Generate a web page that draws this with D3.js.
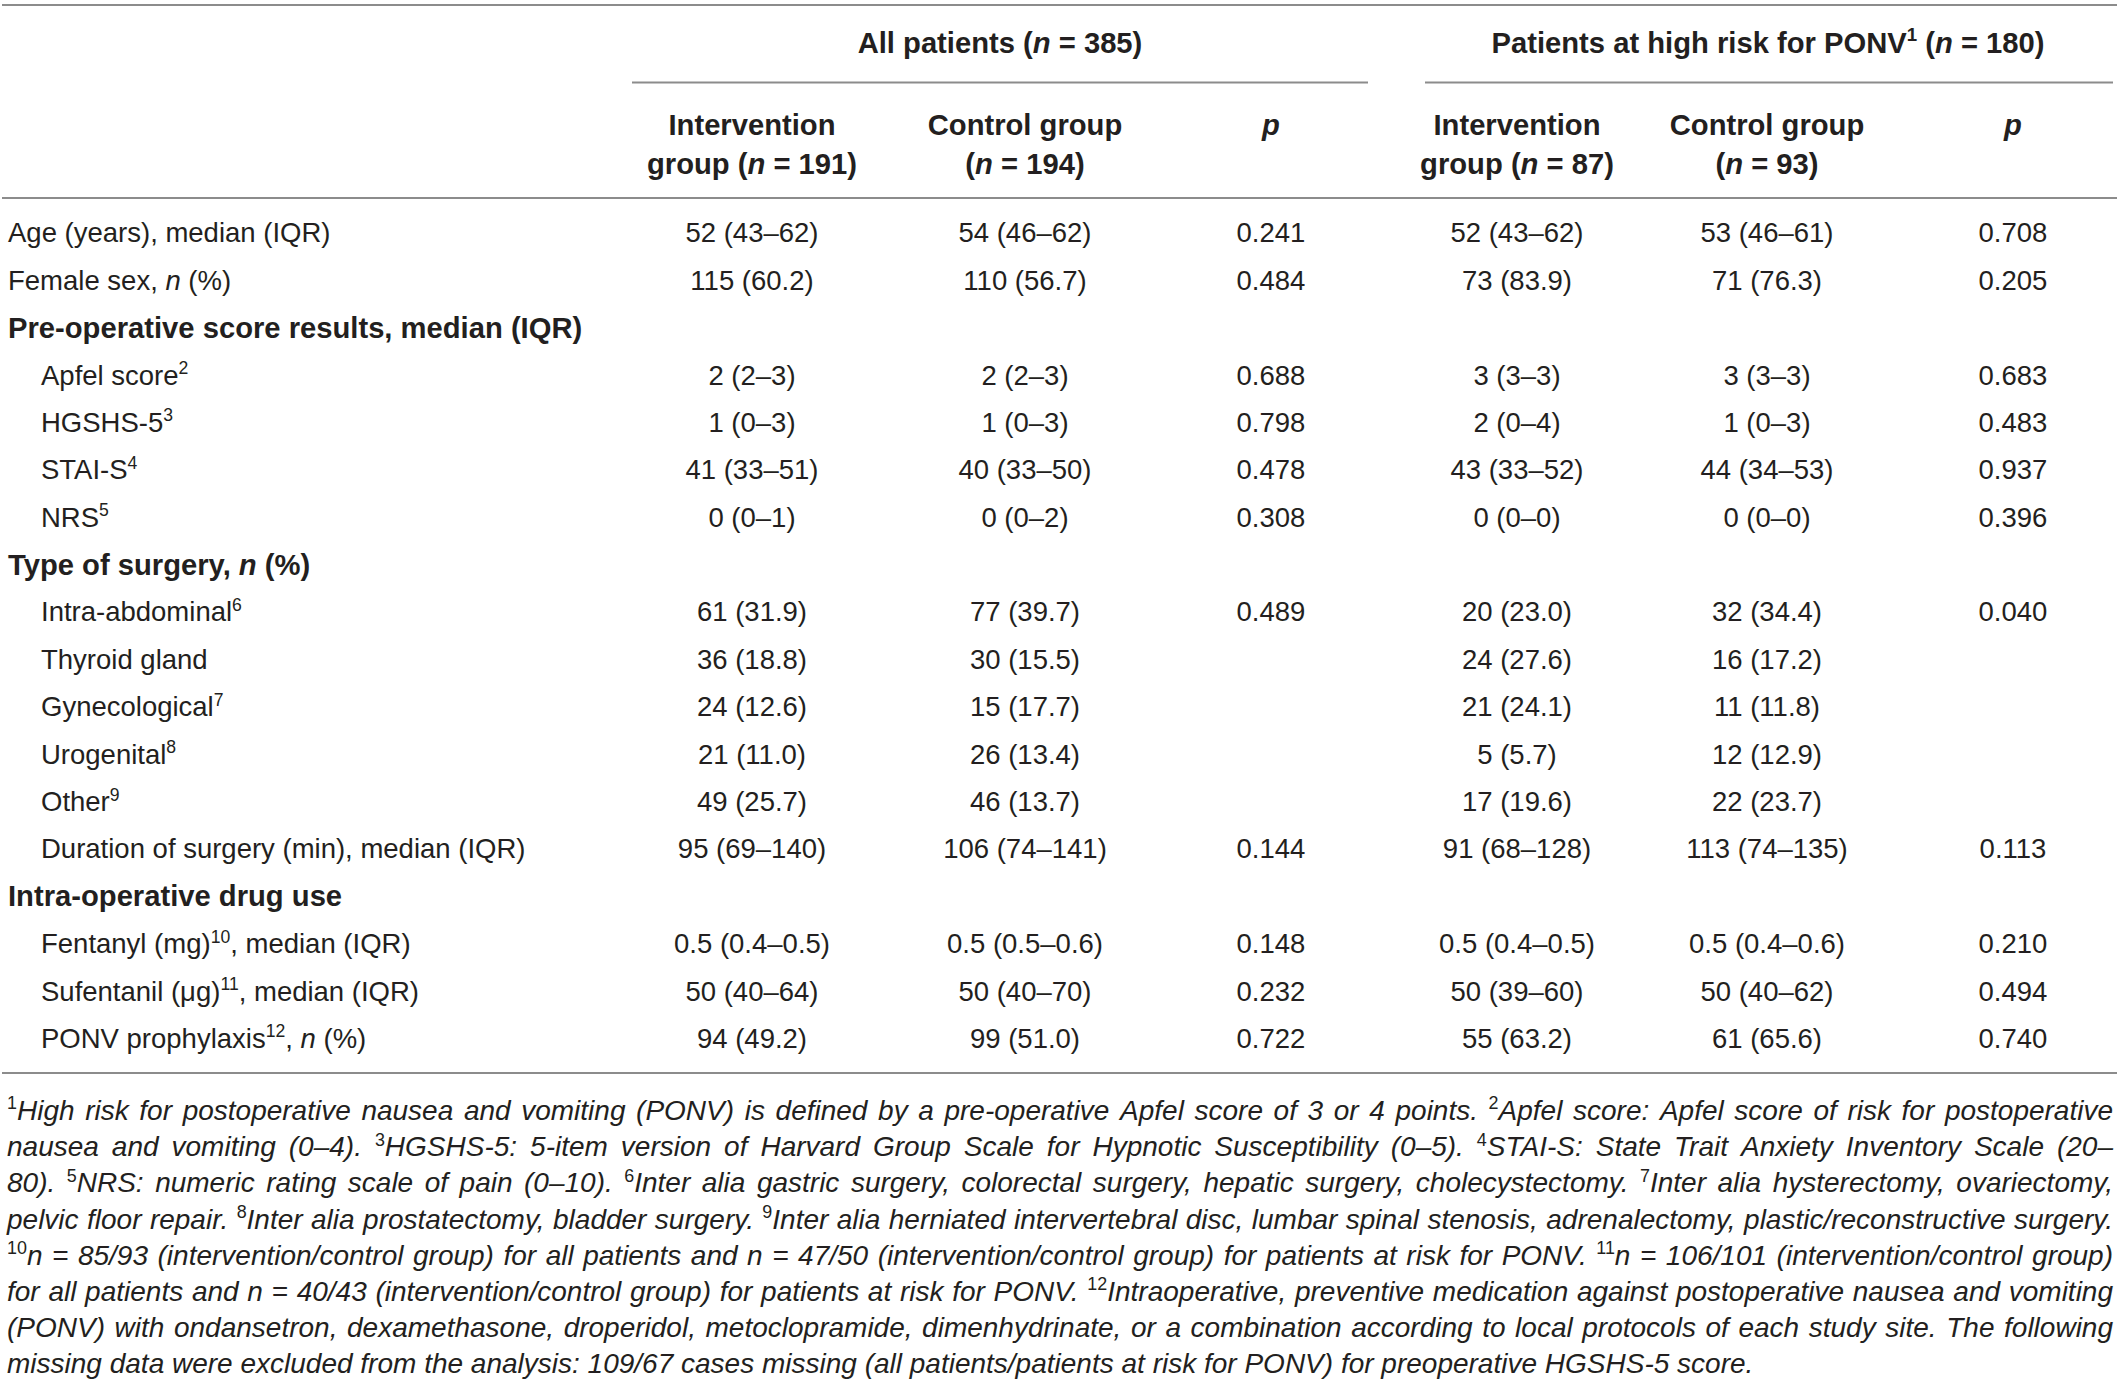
<!DOCTYPE html>
<html>
<head>
<meta charset="utf-8">
<script src="https://cdn.jsdelivr.net/npm/d3@7"></script>
<style>
  body { margin: 0; background: #fff; }
  text { font-family: "Liberation Sans", Arial, Helvetica, sans-serif; fill: #231f20; white-space: pre; }
</style>
</head>
<body>
<svg id="table"></svg>
<script>
// markup: *x* = italic, ^x^ = superscript
const groupHeads = ["All patients (*n* = 385)", "Patients at high risk for PONV^1^ (*n* = 180)"];
const colHead1 = ["Intervention", "Control group", "*p*", "Intervention", "Control group", "*p*"];
const colHead2 = ["group (*n* = 191)", "(*n* = 194)", "", "group (*n* = 87)", "(*n* = 93)", ""];

const rowLabels = [
  "Age (years), median (IQR)",
  "Female sex, *n* (%)",
  "Pre-operative score results, median (IQR)",
  "Apfel score^2^",
  "HGSHS-5^3^",
  "STAI-S^4^",
  "NRS^5^",
  "Type of surgery, *n* (%)",
  "Intra-abdominal^6^",
  "Thyroid gland",
  "Gynecological^7^",
  "Urogenital^8^",
  "Other^9^",
  "Duration of surgery (min), median (IQR)",
  "Intra-operative drug use",
  "Fentanyl (mg)^10^, median (IQR)",
  "Sufentanil (μg)^11^, median (IQR)",
  "PONV prophylaxis^12^, *n* (%)"
];
// 0 = top level, 1 = section heading (bold), 2 = indented
const rowLevel = [0, 0, 1, 2, 2, 2, 2, 1, 2, 2, 2, 2, 2, 2, 1, 2, 2, 2];

const allInt  = ["52 (43–62)", "115 (60.2)", "", "2 (2–3)", "1 (0–3)", "41 (33–51)", "0 (0–1)", "", "61 (31.9)", "36 (18.8)", "24 (12.6)", "21 (11.0)", "49 (25.7)", "95 (69–140)", "", "0.5 (0.4–0.5)", "50 (40–64)", "94 (49.2)"];
const allCtrl = ["54 (46–62)", "110 (56.7)", "", "2 (2–3)", "1 (0–3)", "40 (33–50)", "0 (0–2)", "", "77 (39.7)", "30 (15.5)", "15 (17.7)", "26 (13.4)", "46 (13.7)", "106 (74–141)", "", "0.5 (0.5–0.6)", "50 (40–70)", "99 (51.0)"];
const allP    = ["0.241", "0.484", "", "0.688", "0.798", "0.478", "0.308", "", "0.489", "", "", "", "", "0.144", "", "0.148", "0.232", "0.722"];
const hrInt   = ["52 (43–62)", "73 (83.9)", "", "3 (3–3)", "2 (0–4)", "43 (33–52)", "0 (0–0)", "", "20 (23.0)", "24 (27.6)", "21 (24.1)", "5 (5.7)", "17 (19.6)", "91 (68–128)", "", "0.5 (0.4–0.5)", "50 (39–60)", "55 (63.2)"];
const hrCtrl  = ["53 (46–61)", "71 (76.3)", "", "3 (3–3)", "1 (0–3)", "44 (34–53)", "0 (0–0)", "", "32 (34.4)", "16 (17.2)", "11 (11.8)", "12 (12.9)", "22 (23.7)", "113 (74–135)", "", "0.5 (0.4–0.6)", "50 (40–62)", "61 (65.6)"];
const hrP     = ["0.708", "0.205", "", "0.683", "0.483", "0.937", "0.396", "", "0.040", "", "", "", "", "0.113", "", "0.210", "0.494", "0.740"];

const footLines = [
  "^1^High risk for postoperative nausea and vomiting (PONV) is defined by a pre-operative Apfel score of 3 or 4 points. ^2^Apfel score: Apfel score of risk for postoperative",
  "nausea and vomiting (0–4). ^3^HGSHS-5: 5-item version of Harvard Group Scale for Hypnotic Susceptibility (0–5). ^4^STAI-S: State Trait Anxiety Inventory Scale (20–",
  "80). ^5^NRS: numeric rating scale of pain (0–10). ^6^Inter alia gastric surgery, colorectal surgery, hepatic surgery, cholecystectomy. ^7^Inter alia hysterectomy, ovariectomy,",
  "pelvic floor repair. ^8^Inter alia prostatectomy, bladder surgery. ^9^Inter alia herniated intervertebral disc, lumbar spinal stenosis, adrenalectomy, plastic/reconstructive surgery.",
  "^10^n = 85/93 (intervention/control group) for all patients and n = 47/50 (intervention/control group) for patients at risk for PONV. ^11^n = 106/101 (intervention/control group)",
  "for all patients and n = 40/43 (intervention/control group) for patients at risk for PONV. ^12^Intraoperative, preventive medication against postoperative nausea and vomiting",
  "(PONV) with ondansetron, dexamethasone, droperidol, metoclopramide, dimenhydrinate, or a combination according to local protocols of each study site. The following",
  "missing data were excluded from the analysis: 109/67 cases missing (all patients/patients at risk for PONV) for preoperative HGSHS-5 score."
];

const W = 2119, H = 1389;
const FS = 27.5, FSB = 29.2, FSN = 28;
const lineColor = "#8c8c8c";

const svg = d3.select("#table").attr("width", W).attr("height", H);

const columns = [allInt, allCtrl, allP, hrInt, hrCtrl, hrP];
const colX = d3.scaleOrdinal().domain(d3.range(6)).range([752, 1025, 1271, 1517, 1767, 2013]);
const rowY = d3.scalePoint().domain(d3.range(rowLabels.length)).range([232.5, 1038]);
const footY = d3.scalePoint().domain(d3.range(footLines.length)).range([1110, 1363]);

function parse(str) {
  const out = [];
  let cur = "", it = false, sup = false;
  for (const ch of str) {
    if (ch === "*" || ch === "^") {
      if (cur) out.push({ t: cur, it, sup });
      cur = "";
      if (ch === "*") it = !it; else sup = !sup;
    } else cur += ch;
  }
  if (cur) out.push({ t: cur, it, sup });
  return out;
}

function addRuns(sel, str, fs) {
  const rise = fs * 0.38;
  let up = false;
  parse(str).forEach(r => {
    const ts = sel.append("tspan").text(r.t);
    if (r.it) ts.attr("font-style", "italic");
    if (r.sup) {
      ts.attr("font-size", fs * 0.64).attr("font-style", "normal");
      if (!up) { ts.attr("dy", -rise); up = true; }
    } else if (up) {
      ts.attr("dy", rise); up = false;
    }
  });
  return sel;
}

function cell(g, str, x, yc, fs, opts = {}) {
  const t = g.append("text")
    .attr("x", x)
    .attr("y", yc + fs * 0.36)
    .attr("font-size", fs)
    .attr("text-anchor", opts.anchor || "middle");
  if (opts.bold) t.attr("font-weight", "bold");
  if (opts.italic) t.attr("font-style", "italic");
  return addRuns(t, str, fs);
}

// rules
const rules = svg.append("g").attr("stroke", lineColor).attr("stroke-width", 2);
[[2, 2117, 5], [632, 1368, 82.5], [1425, 2113, 82.5], [2, 2117, 198], [2, 2117, 1073]]
  .forEach(([x1, x2, y]) => rules.append("line").attr("x1", x1).attr("x2", x2).attr("y1", y).attr("y2", y));

// header
const head = svg.append("g");
cell(head, groupHeads[0], 1000, 42, FSB, { bold: true });
cell(head, groupHeads[1], 1768, 42, FSB, { bold: true });
colHead1.forEach((s, i) => cell(head, s, colX(i), 124, FSB, { bold: true }));
colHead2.forEach((s, i) => { if (s) cell(head, s, colX(i), 163, FSB, { bold: true }); });

// body
const body = svg.append("g");
rowLabels.forEach((lab, r) => {
  const lvl = rowLevel[r];
  cell(body, lab, lvl === 2 ? 41 : 8, rowY(r), lvl === 1 ? FSB : FS, { anchor: "start", bold: lvl === 1 });
  columns.forEach((col, c) => { if (col[r]) cell(body, col[r], colX(c), rowY(r), FS); });
});

// footnotes, justified line by line
const X0 = 7, X1 = 2113;
const foot = svg.append("g");
footLines.forEach((line, i) => {
  const words = line.split(" ");
  const nodes = words.map(w => cell(foot, w, 0, footY(i), FSN, { anchor: "start", italic: true }));
  const widths = nodes.map(n => n.node().getComputedTextLength());
  const total = d3.sum(widths);
  const last = i === footLines.length - 1;
  const gap = last ? FSN * 0.278 : (X1 - X0 - total) / (words.length - 1);
  let x = X0;
  nodes.forEach((n, k) => { n.attr("x", x); x += widths[k] + gap; });
});
</script>
</body>
</html>
